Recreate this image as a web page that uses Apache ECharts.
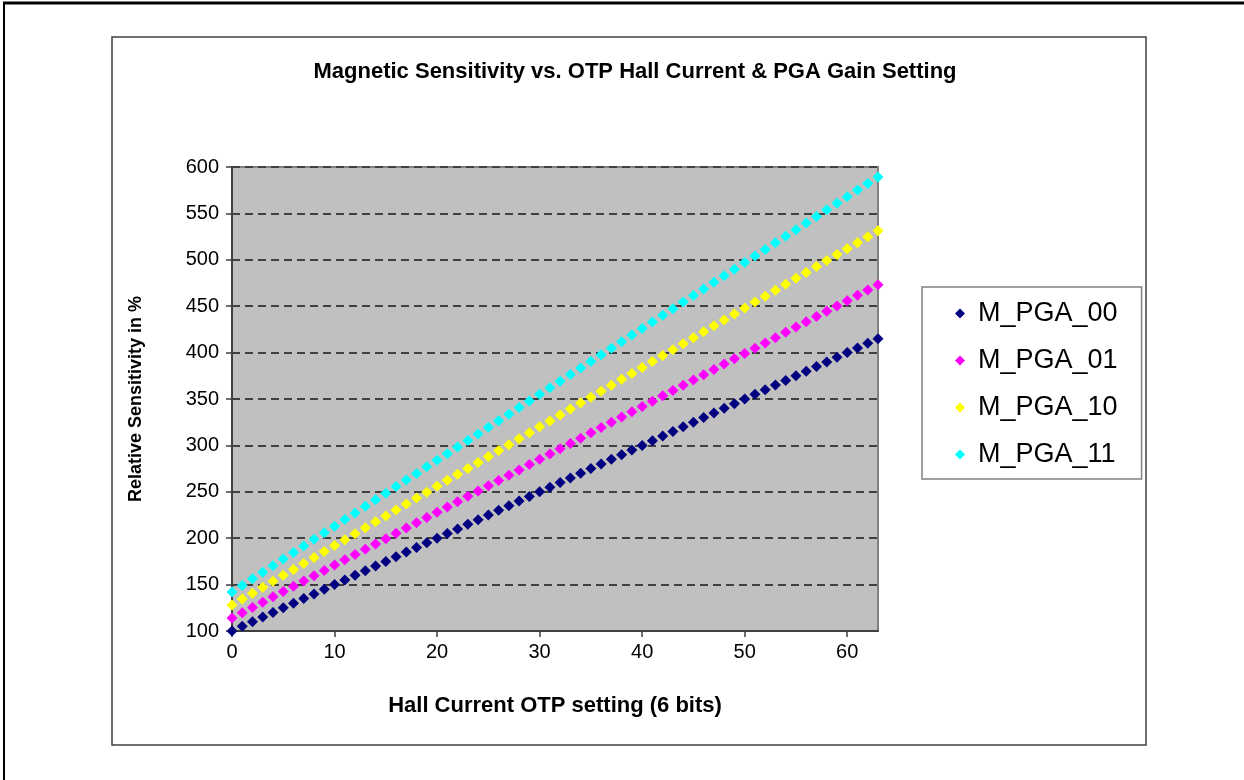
<!DOCTYPE html>
<html>
<head>
<meta charset="utf-8">
<script src="https://cdn.jsdelivr.net/npm/echarts@6/dist/echarts.min.js"></script>
<style>html,body{margin:0;padding:0;background:#fff;}#c{width:1244px;height:780px;}</style>
</head>
<body>
<div id="c"></div>
<script>
var xTicks = [0, 10, 20, 30, 40, 50, 60];
var seriesNames = ['M_PGA_00', 'M_PGA_01', 'M_PGA_10', 'M_PGA_11'];
var hallSetting = [0,1,2,3,4,5,6,7,8,9,10,11,12,13,14,15,16,17,18,19,20,21,22,23,24,25,26,27,28,29,30,31,32,33,34,35,36,37,38,39,40,41,42,43,44,45,46,47,48,49,50,51,52,53,54,55,56,57,58,59,60,61,62,63];
var pga00 = [100,105,110,115,120,125,130,135,140,145,150,155,160,165,170,175,180,185,190,195,200,205,210,215,220,225,230,235,240,245,250,255,260,265,270,275,280,285,290,295,300,305,310,315,320,325,330,335,340,345,350,355,360,365,370,375,380,385,390,395,400,405,410,415];
var pga01 = [114,119.7,125.4,131.1,136.8,142.5,148.2,153.9,159.6,165.3,171,176.7,182.4,188.1,193.8,199.5,205.2,210.9,216.6,222.3,228,233.7,239.4,245.1,250.8,256.5,262.2,267.9,273.6,279.3,285,290.7,296.4,302.1,307.8,313.5,319.2,324.9,330.6,336.3,342,347.7,353.4,359.1,364.8,370.5,376.2,381.9,387.6,393.3,399,404.7,410.4,416.1,421.8,427.5,433.2,438.9,444.6,450.3,456,461.7,467.4,473.1];
var pga10 = [128,134.4,140.8,147.2,153.6,160,166.4,172.8,179.2,185.6,192,198.4,204.8,211.2,217.6,224,230.4,236.8,243.2,249.6,256,262.4,268.8,275.2,281.6,288,294.4,300.8,307.2,313.6,320,326.4,332.8,339.2,345.6,352,358.4,364.8,371.2,377.6,384,390.4,396.8,403.2,409.6,416,422.4,428.8,435.2,441.6,448,454.4,460.8,467.2,473.6,480,486.4,492.8,499.2,505.6,512,518.4,524.8,531.2];
var pga11 = [142,149.1,156.2,163.3,170.4,177.5,184.6,191.7,198.8,205.9,213,220.1,227.2,234.3,241.4,248.5,255.6,262.7,269.8,276.9,284,291.1,298.2,305.3,312.4,319.5,326.6,333.7,340.8,347.9,355,362.1,369.2,376.3,383.4,390.5,397.6,404.7,411.8,418.9,426,433.1,440.2,447.3,454.4,461.5,468.6,475.7,482.8,489.9,497,504.1,511.2,518.3,525.4,532.5,539.6,546.7,553.8,560.9,568,575.1,582.2,589.3];
var colors = ['#000080', '#FF00FF', '#FFFF00', '#00FFFF'];

function pairs(ys) { return hallSetting.map(function (x, i) { return [x, ys[i]]; }); }
var allValues = [pga00, pga01, pga10, pga11];

var chart = echarts.init(document.getElementById('c'));
var font = 'Liberation Sans, Arial, sans-serif';
chart.setOption({
  animation: false,
  backgroundColor: '#ffffff',
  graphic: [
    { type: 'line', shape: { x1: 3, y1: 3, x2: 1244, y2: 3 }, style: { stroke: '#000', lineWidth: 3 } },
    { type: 'line', shape: { x1: 4, y1: 3, x2: 4, y2: 780 }, style: { stroke: '#000', lineWidth: 2 } },
    { type: 'rect', shape: { x: 112, y: 37, width: 1034, height: 708 }, style: { fill: 'none', stroke: '#404040', lineWidth: 1.5 }, z: -1 }
  ],
  title: {
    text: 'Magnetic Sensitivity vs. OTP Hall Current & PGA Gain Setting',
    left: 630, top: 56, textAlign: 'center',
    textStyle: { fontFamily: font, fontSize: 22, fontWeight: 'bold', color: '#000' }
  },
  legend: {
    orient: 'vertical',
    left: 922, top: 287,
    padding: [11, 24, 9, 33],
    backgroundColor: '#fff',
    borderColor: '#808080', borderWidth: 1.5,
    itemWidth: 10, itemHeight: 10, itemGap: 16,
    icon: 'diamond',
    textStyle: { fontFamily: font, fontSize: 27, color: '#000', lineHeight: 31, padding: [0, 0, 0, 8] },
    data: seriesNames
  },
  grid: {
    left: 232, right: 366, top: 167, bottom: 149,
    show: true, backgroundColor: '#c0c0c0', borderColor: '#808080', borderWidth: 2
  },
  xAxis: {
    type: 'value', min: 0, max: 63, interval: 10,
    name: 'Hall Current OTP setting (6 bits)', nameLocation: 'middle', nameGap: 64,
    nameTextStyle: { fontFamily: font, fontSize: 22, fontWeight: 'bold', color: '#000' },
    axisLine: { show: true, onZero: false, lineStyle: { color: '#404040', width: 2 } },
    axisTick: { show: true, length: 6, lineStyle: { color: '#404040', width: 1.5 }, customValues: xTicks },
    axisLabel: { fontFamily: font, fontSize: 20, color: '#000', margin: 11, customValues: xTicks },
    splitLine: { show: false }
  },
  yAxis: {
    type: 'value', min: 100, max: 600, interval: 50,
    name: 'Relative Sensitivity in %', nameLocation: 'middle', nameGap: 87, nameRotate: 90,
    nameTextStyle: { fontFamily: font, fontSize: 18, fontWeight: 'bold', color: '#000' },
    axisLine: { show: true, onZero: false, lineStyle: { color: '#404040', width: 2 } },
    axisTick: { show: true, length: 6, lineStyle: { color: '#404040', width: 1.5 } },
    axisLabel: { fontFamily: font, fontSize: 20, color: '#000', margin: 13 },
    splitLine: { show: true, lineStyle: { color: '#404040', width: 2, type: [8, 5] } }
  },
  series: seriesNames.map(function (n, k) {
    return {
      name: n, type: 'scatter', symbol: 'diamond', symbolSize: 11,
      itemStyle: { color: colors[k], opacity: 1 },
      data: pairs(allValues[k])
    };
  })
});
</script>
</body>
</html>
